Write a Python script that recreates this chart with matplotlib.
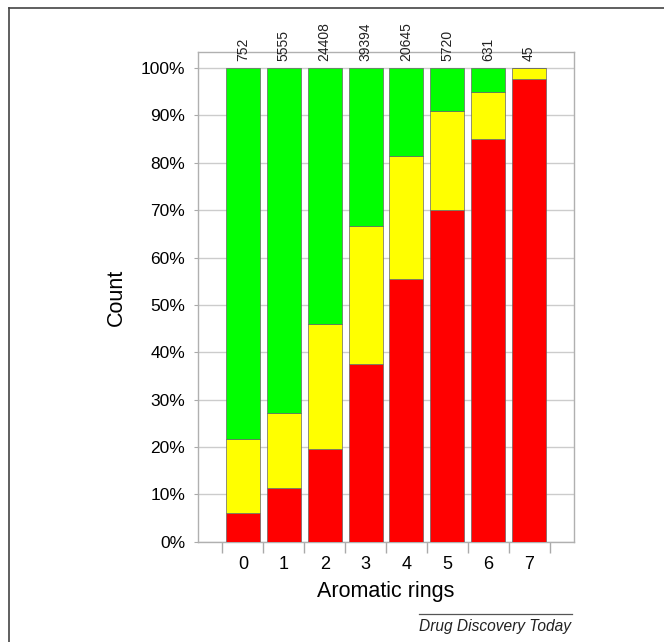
import matplotlib.pyplot as plt
import numpy as np
from matplotlib.lines import Line2D

plt.rcParams['font.family'] = ['Liberation Sans', 'DejaVu Sans']

# 每个芳香环数目对应的分子数及三类占比（%）
rings = ['0', '1', '2', '3', '4', '5', '6', '7']
counts = [752, 5555, 24408, 39394, 20645, 5720, 631, 45]
red_pct = [6.0, 11.4, 19.6, 37.5, 55.5, 70.0, 85.0, 97.7]
yellow_pct = [15.7, 15.9, 26.4, 29.2, 26.0, 21.0, 10.0, 2.3]
green_pct = [78.3, 72.7, 54.0, 33.3, 18.5, 9.0, 5.0, 0.0]

fig = plt.figure(figsize=(6.64, 6.42), dpi=100)
ax = fig.add_axes([0.298, 0.156, 0.566, 0.763])

x = np.arange(len(rings))
w = 0.83
edge = dict(edgecolor='#666666', linewidth=0.5, zorder=3)
red = np.array(red_pct)
yellow = np.array(yellow_pct)
ax.bar(x, red, w, color='#ff0000', **edge)
ax.bar(x, yellow, w, bottom=red, color='#ffff00', **edge)
ax.bar(x, green_pct, w, bottom=red + yellow, color='#00ff00', **edge)

# 柱顶的分子数标注
for xi, n in zip(x, counts):
    ax.text(xi, 101.4, str(n), rotation=90, ha='center', va='bottom',
            fontsize=10, color='#222222')

ax.set_xlim(-1.1, 8.09)
ax.set_ylim(0, 103.4)

ax.set_yticks(np.arange(0, 101, 10))
ax.set_yticklabels([f'{v}%' for v in range(0, 101, 10)], fontsize=12.5)
ax.yaxis.grid(True, color='#cccccc', linewidth=1.0, zorder=0)
ax.set_axisbelow(True)

ax.set_xticks(np.arange(-0.5, len(rings), 1.0))
ax.set_xticklabels([])
ax.set_xticks(x, minor=True)
ax.set_xticklabels(rings, minor=True, fontsize=13)
ax.tick_params(axis='x', which='major', length=8, color='#aaaaaa', width=1)
ax.tick_params(axis='x', which='minor', length=0, pad=10)
ax.tick_params(axis='y', length=3, color='#aaaaaa', pad=6)

for s in ax.spines.values():
    s.set_color('#b0b0b0')
    s.set_linewidth(1.0)

ax.set_xlabel('Aromatic rings', fontsize=15.5, labelpad=6)
ax.set_ylabel('Count', fontsize=15.5, labelpad=10)

# 外框与期刊署名
fig.add_artist(Line2D([9 / 664, 9 / 664], [0, 1 - 8 / 642], color='#444444', lw=1.2))
fig.add_artist(Line2D([9 / 664, 1], [1 - 8 / 642, 1 - 8 / 642], color='#444444', lw=1.2))
fig.add_artist(Line2D([419 / 664, 572 / 664], [1 - 614 / 642, 1 - 614 / 642],
                      color='#555555', lw=0.9))
fig.text(419 / 664, 1 - 626 / 642, 'Drug Discovery Today', fontsize=11.2,
         style='italic', ha='left', va='center', color='#222222')

fig.savefig('out.png', dpi=100)
